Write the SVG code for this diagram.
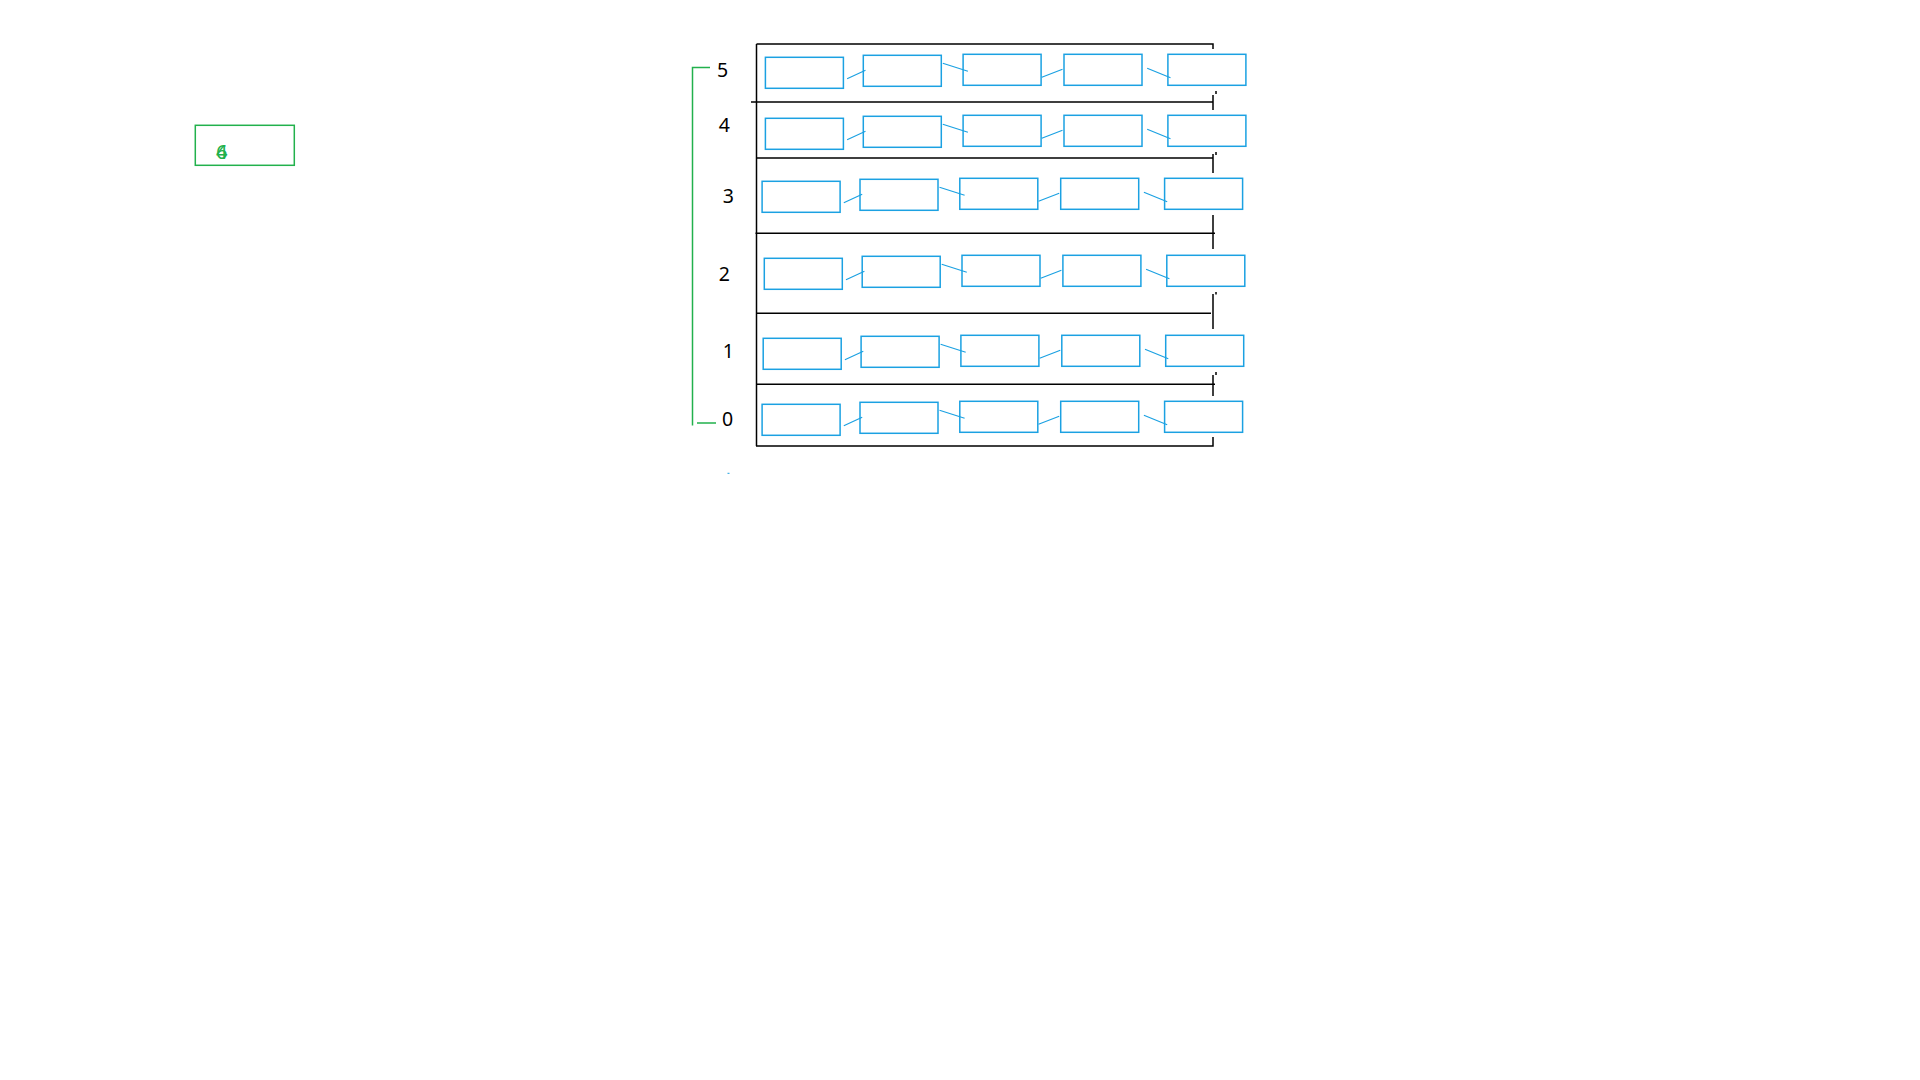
<svg xmlns="http://www.w3.org/2000/svg" width="1920" height="1080" viewBox="0 0 1920 1080">
<style>
.bx{fill:none;stroke:#1ba1e2;stroke-width:1.5}
.cn{stroke:#1ba1e2;stroke-width:1.2;fill:none}
.fr{stroke:#000;stroke-width:1.5;fill:none}
.gr{stroke:#22b14c;stroke-width:1.5;fill:none}
.lb{font-family:"Noto Sans","DejaVu Sans",sans-serif;font-size:19.5px;fill:#000;text-anchor:middle}
.gt{font-family:"Noto Sans","DejaVu Sans",sans-serif;font-size:20px;fill:#22b14c;text-anchor:middle}
</style>
<rect width="1920" height="1080" fill="#fff"/>
<g id="frame">
<path class="fr" d="M756.5 44V446M756.5 44H1213V49M751 102H1213M1213 95V110M1216 91V94M756 158H1213M1216 152V155M1213 154V173M755.4 233.3H1215M1213 215V249M756 313.3H1211M1216 292V294.5M1213 294V329M756 384.3H1215M1216 372V375M1213 375V396M756 446H1213V437"/>
</g>
<g id="bracket">
<path class="gr" d="M710 67.5H692.5V425.5M697 423H716"/>
</g>
<g id="labels">
<text class="lb" x="722.5" y="76.8">5</text>
<text class="lb" x="724.3" y="132.3">4</text>
<text class="lb" x="728.3" y="203">3</text>
<text class="lb" x="724.3" y="280.6">2</text>
<text class="lb" x="728.3" y="358">1</text>
<text class="lb" x="727.5" y="426">0</text>
</g>
<g id="legend">
<rect class="gr" x="195.3" y="125.3" width="99" height="40"/>
<text class="gt" x="221.7" y="158.5">4</text>
<text class="gt" x="221.7" y="158.5">6</text>
</g>
<g id="row5">
<g id="n5-1"><rect class="bx" x="765.4" y="57.3" width="78" height="31"/></g>
<g id="n5-2"><rect class="bx" x="863.3" y="55.3" width="78" height="31"/></g>
<g id="n5-3"><rect class="bx" x="963.1" y="54.3" width="78" height="31"/></g>
<g id="n5-4"><rect class="bx" x="1064" y="54.3" width="78" height="31"/></g>
<g id="n5-5"><rect class="bx" x="1167.9" y="54.3" width="78" height="31"/></g>
</g>
<g id="row4">
<g id="n4-1"><rect class="bx" x="765.4" y="118.3" width="78" height="31"/></g>
<g id="n4-2"><rect class="bx" x="863.3" y="116.3" width="78" height="31"/></g>
<g id="n4-3"><rect class="bx" x="963.1" y="115.3" width="78" height="31"/></g>
<g id="n4-4"><rect class="bx" x="1064" y="115.3" width="78" height="31"/></g>
<g id="n4-5"><rect class="bx" x="1167.9" y="115.3" width="78" height="31"/></g>
</g>
<g id="row3">
<g id="n3-1"><rect class="bx" x="762.1" y="181.3" width="78" height="31"/></g>
<g id="n3-2"><rect class="bx" x="860" y="179.3" width="78" height="31"/></g>
<g id="n3-3"><rect class="bx" x="959.8" y="178.3" width="78" height="31"/></g>
<g id="n3-4"><rect class="bx" x="1060.7" y="178.3" width="78" height="31"/></g>
<g id="n3-5"><rect class="bx" x="1164.6" y="178.3" width="78" height="31"/></g>
</g>
<g id="row2">
<g id="n2-1"><rect class="bx" x="764.3" y="258.3" width="78" height="31"/></g>
<g id="n2-2"><rect class="bx" x="862.2" y="256.3" width="78" height="31"/></g>
<g id="n2-3"><rect class="bx" x="962" y="255.3" width="78" height="31"/></g>
<g id="n2-4"><rect class="bx" x="1062.9" y="255.3" width="78" height="31"/></g>
<g id="n2-5"><rect class="bx" x="1166.8" y="255.3" width="78" height="31"/></g>
</g>
<g id="row1">
<g id="n1-1"><rect class="bx" x="763.2" y="338.3" width="78" height="31"/></g>
<g id="n1-2"><rect class="bx" x="861.1" y="336.3" width="78" height="31"/></g>
<g id="n1-3"><rect class="bx" x="960.9" y="335.3" width="78" height="31"/></g>
<g id="n1-4"><rect class="bx" x="1061.8" y="335.3" width="78" height="31"/></g>
<g id="n1-5"><rect class="bx" x="1165.7" y="335.3" width="78" height="31"/></g>
</g>
<g id="row0">
<g id="n0-1"><rect class="bx" x="762.1" y="404.3" width="78" height="31"/></g>
<g id="n0-2"><rect class="bx" x="860" y="402.3" width="78" height="31"/></g>
<g id="n0-3"><rect class="bx" x="959.8" y="401.3" width="78" height="31"/></g>
<g id="n0-4"><rect class="bx" x="1060.7" y="401.3" width="78" height="31"/></g>
<g id="n0-5"><rect class="bx" x="1164.6" y="401.3" width="78" height="31"/></g>
</g>
<g id="connectors">
<path class="cn" d="M847.1 78.7L865.5 70.3M942.8 63.3L967.9 71.3M1041.8 77.3L1062.5 69.3M1147.2 68.3L1170.5 77.7"/>
<path class="cn" d="M847.1 139.7L865.5 131.3M942.8 124.3L967.9 132.3M1041.8 138.3L1062.5 130.3M1147.2 129.3L1170.5 138.7"/>
<path class="cn" d="M843.8 202.7L862.2 194.3M939.5 187.3L964.6 195.3M1038.5 201.3L1059.2 193.3M1143.9 192.3L1167.2 201.7"/>
<path class="cn" d="M846 279.7L864.4 271.3M941.7 264.3L966.8 272.3M1040.7 278.3L1061.4 270.3M1146.1 269.3L1169.4 278.7"/>
<path class="cn" d="M844.9 359.7L863.3 351.3M940.6 344.3L965.7 352.3M1039.6 358.3L1060.3 350.3M1145 349.3L1168.3 358.7"/>
<path class="cn" d="M843.8 425.7L862.2 417.3M939.5 410.3L964.6 418.3M1038.5 424.3L1059.2 416.3M1143.9 415.3L1167.2 424.7"/>
</g>
<rect x="727.5" y="472.8" width="2" height="1" fill="#1ba1e2"/>
</svg>
